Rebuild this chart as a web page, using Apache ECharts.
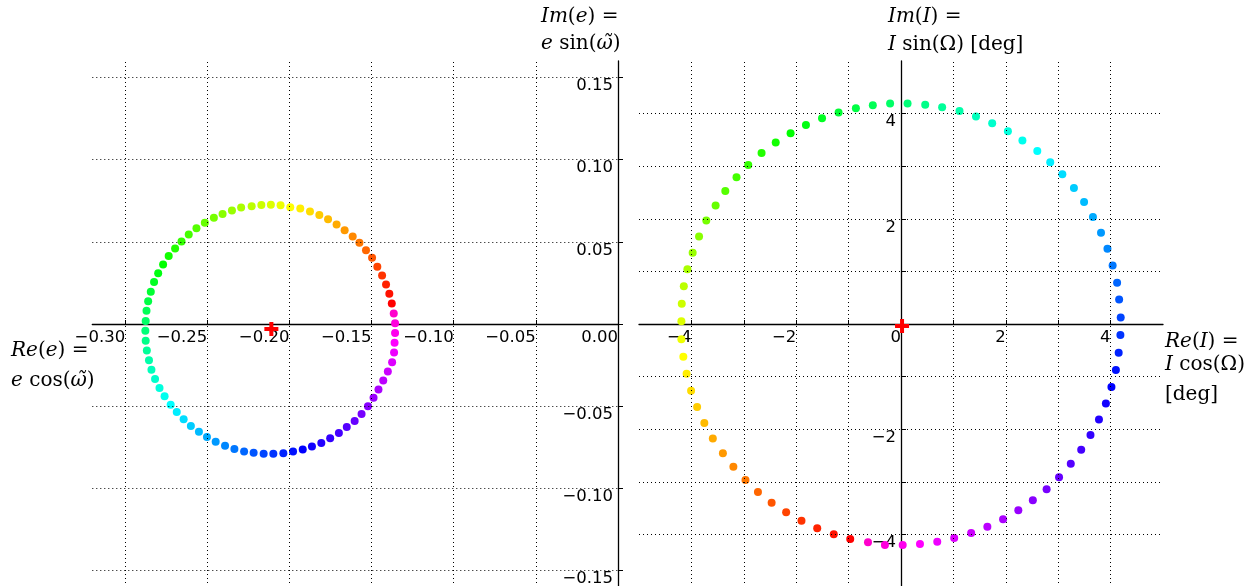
<!DOCTYPE html>
<html><head><meta charset="utf-8">
<script src="https://cdn.jsdelivr.net/npm/echarts@6/dist/echarts.min.js"></script>
<style>html,body{margin:0;padding:0;background:#fff}#c{width:1253px;height:586px}</style>
</head><body><div id="c"></div>
<script>
// ---- data ----
const leftRe = [-0.1377,-0.1392,-0.1412,-0.1436,-0.1465,-0.1497,-0.1534,-0.1574,-0.1615,-0.1664,-0.1713,-0.1765,-0.1818,-0.1875,-0.1934,-0.1995,-0.2054,-0.2113,-0.2171,-0.2230,-0.2294,-0.2350,-0.2407,-0.2460,-0.2515,-0.2566,-0.2613,-0.2657,-0.2696,-0.2735,-0.2769,-0.2799,-0.2824,-0.2844,-0.2860,-0.2870,-0.2875,-0.2877,-0.2875,-0.2868,-0.2855,-0.2840,-0.2818,-0.2791,-0.2760,-0.2723,-0.2686,-0.2644,-0.2600,-0.2551,-0.2502,-0.2449,-0.2392,-0.2335,-0.2276,-0.2218,-0.2157,-0.2098,-0.2037,-0.1978,-0.1919,-0.1863,-0.1806,-0.1752,-0.1699,-0.1651,-0.1603,-0.1561,-0.1522,-0.1488,-0.1458,-0.1429,-0.1401,-0.1375,-0.1363,-0.1360,-0.1357,-0.1357,-0.1365];
const leftIm = [0.0125,0.0184,0.0241,0.0295,0.0348,0.0403,0.0448,0.0495,0.0533,0.0571,0.0606,0.0638,0.0663,0.0685,0.0702,0.0711,0.0722,0.0726,0.0724,0.0717,0.0708,0.0691,0.0669,0.0647,0.0616,0.0582,0.0545,0.0502,0.0460,0.0413,0.0362,0.0309,0.0255,0.0196,0.0139,0.0080,0.0019,-0.0041,-0.0102,-0.0161,-0.0220,-0.0279,-0.0334,-0.0389,-0.0440,-0.0492,-0.0535,-0.0580,-0.0620,-0.0655,-0.0687,-0.0717,-0.0740,-0.0760,-0.0776,-0.0784,-0.0789,-0.0790,-0.0787,-0.0776,-0.0764,-0.0746,-0.0724,-0.0695,-0.0663,-0.0626,-0.0590,-0.0547,-0.0501,-0.0449,-0.0399,-0.0344,-0.0289,-0.0233,-0.0174,-0.0114,-0.0054,0.0005,0.0064];
const rightRe = [-0.969,-1.283,-1.599,-1.899,-2.192,-2.469,-2.730,-2.968,-3.199,-3.399,-3.591,-3.753,-3.891,-4.006,-4.092,-4.154,-4.191,-4.191,-4.184,-4.145,-4.076,-3.976,-3.854,-3.716,-3.538,-3.353,-3.139,-2.915,-2.661,-2.391,-2.107,-1.814,-1.507,-1.191,-0.861,-0.538,-0.208,0.125,0.462,0.785,1.117,1.431,1.740,2.040,2.317,2.601,2.848,3.079,3.300,3.494,3.663,3.817,3.940,4.039,4.124,4.163,4.193,4.187,4.154,4.101,4.016,3.910,3.778,3.616,3.439,3.240,3.016,2.779,2.516,2.239,1.948,1.648,1.339,1.015,0.692,0.362,0.032,-0.307,-0.630];
const rightIm = [-4.088,-3.998,-3.884,-3.739,-3.579,-3.396,-3.192,-2.964,-2.716,-2.455,-2.177,-1.884,-1.579,-1.269,-0.945,-0.621,-0.291,0.051,0.383,0.718,1.042,1.354,1.665,1.970,2.255,2.528,2.789,3.023,3.251,3.450,3.627,3.785,3.912,4.021,4.103,4.160,4.192,4.192,4.166,4.122,4.051,3.945,3.817,3.665,3.488,3.290,3.074,2.846,2.585,2.318,2.032,1.735,1.430,1.112,0.783,0.465,0.122,-0.208,-0.545,-0.874,-1.198,-1.510,-1.815,-2.112,-2.392,-2.659,-2.912,-3.141,-3.350,-3.541,-3.712,-3.853,-3.973,-4.069,-4.139,-4.183,-4.202,-4.202,-4.150];
const leftCenter = [-0.211, -0.003];
const rightCenter = [0.02, -0.04];

const leftXTicks = [-0.30,-0.25,-0.20,-0.15,-0.10,-0.05,0.00];
const leftYTicks = [-0.15,-0.10,-0.05,0.00,0.05,0.10,0.15];
const leftYLabels = [-0.15,-0.10,-0.05,0.05,0.10,0.15];
const rightXTicks = [-4,-3,-2,-1,0,1,2,3,4];
const rightXLabels = [-4,-2,0,2,4];
const rightYTicks = [-4,-3,-2,-1,0,1,2,3,4];
const rightYLabels = [-4,-2,2,4];

// ---- layout ----
const G = [
  {left:92.3, top:61, width:525.7, height:526, xMin:-0.32, xMax:0, yMin:-0.16, yMax:0.16},
  {left:639, top:61, width:524, height:526, xMin:-5, xMax:5, yMin:-5, yMax:5}
];

const chart = echarts.init(document.getElementById('c'), null, {renderer:'canvas'});
const TICK_FONT = {fontFamily:'DejaVu Sans', fontSize:16.5, color:'#000'};
function fmt(d){ return v => (v < -1e-9 ? '\u2212' : '') + Math.abs(v).toFixed(d); }
const axisLineStyle = {color:'#000', width:1.3};

function xAx(gi, ticks, labels, dec){
  const g = G[gi];
  // shift the bottom axis up to the y = 0 line (keeps labels next to the line)
  const off = -g.height * (0 - g.yMin) / (g.yMax - g.yMin);
  return {type:'value', gridIndex:gi, min:g.xMin, max:g.xMax, position:'bottom', offset:off,
    axisLine:{show:true, onZero:false, lineStyle:axisLineStyle},
    axisTick:{show:true, inside:true, length:4, customValues:ticks, lineStyle:{color:'#000', width:1}},
    axisLabel:Object.assign({show:true, customValues:labels, formatter:fmt(dec), align:'right', margin:5,
      showMinLabel:true, showMaxLabel:true, hideOverlap:false}, TICK_FONT),
    splitLine:{show:false}};
}
function yAx(gi, ticks, labels, dec){
  const g = G[gi];
  // shift the left axis right to the x = 0 line
  const off = -g.width * (0 - g.xMin) / (g.xMax - g.xMin);
  return {type:'value', gridIndex:gi, min:g.yMin, max:g.yMax, position:'left', offset:off,
    axisLine:{show:true, onZero:false, lineStyle:axisLineStyle},
    axisTick:{show:true, inside:true, length:5, customValues:ticks, lineStyle:{color:'#000', width:1}},
    axisLabel:Object.assign({show:true, customValues:labels, formatter:fmt(dec), verticalAlign:'top', margin:5,
      showMinLabel:true, showMaxLabel:true, hideOverlap:false}, TICK_FONT),
    splitLine:{show:false}};
}
function gridSeries(xi, xs, ys){
  const d = xs.filter(v=>Math.abs(v)>1e-9).map(v=>({xAxis:v}))
    .concat(ys.filter(v=>Math.abs(v)>1e-9).map(v=>({yAxis:v})));
  return {type:'scatter', xAxisIndex:xi, yAxisIndex:xi, data:[], z:1, silent:true,
    markLine:{silent:true, symbol:['none','none'], label:{show:false}, animation:false,
      lineStyle:{color:'#000', width:1, type:[1,3], opacity:1}, emphasis:{disabled:true}, data:d}};
}
function dots(xi, xs, ys){
  return {type:'scatter', xAxisIndex:xi, yAxisIndex:xi, z:3, symbolSize:8,
    data: xs.map((x,i)=>[x, ys[i], i]), itemStyle:{opacity:1}};
}
const PLUS = 'path://M0,10h10v-10h8v10h10v8h-10v10h-8v-10h-10z';
function cross(xi, c){
  return {type:'scatter', xAxisIndex:xi, yAxisIndex:xi, z:4, symbol:PLUS, symbolSize:14,
    data:[c], itemStyle:{color:'#ff0000', opacity:1}};
}

const SERIF = 'DejaVu Serif';
const rich = {i:{fontStyle:'italic', fontFamily:SERIF, fontSize:20, fill:'#000'}};
function txt(x, y, s){
  return {type:'text', x, y, silent:true, z:10,
    style:{text:s, fontFamily:SERIF, fontSize:20, fill:'#000', rich,
      align:'left', verticalAlign:'middle', textAlign:'left', textVerticalAlign:'middle'}};
}

chart.setOption({
  animation:false,
  backgroundColor:'#fff',
  grid: G.map(g=>({left:g.left, top:g.top, width:g.width, height:g.height, containLabel:false, outerBoundsMode:'none'})),
  xAxis:[ xAx(0,leftXTicks,leftXTicks,2), xAx(1,rightXTicks,rightXLabels,0) ],
  yAxis:[ yAx(0,leftYTicks,leftYLabels,2), yAx(1,rightYTicks,rightYLabels,0) ],
  visualMap:{show:false, type:'continuous', dimension:2, min:0, max:90, seriesIndex:[1,4],
    inRange:{color:['#ff0000','#ffff00','#00ff00','#00ffff','#0000ff','#ff00ff','#ff0000']}},
  series:[
    gridSeries(0, leftXTicks, leftYTicks),
    dots(0, leftRe, leftIm),
    cross(0, leftCenter),
    gridSeries(1, rightXTicks, rightYTicks),
    dots(1, rightRe, rightIm),
    cross(1, rightCenter)
  ],
  graphic:[
    txt(541, 16.7, '{i|Im}({i|e}) ='),
    txt(541, 44.2, '{i|e} sin({i|ω\u0303})'),
    txt(11, 351, '{i|Re}({i|e}) ='),
    txt(11, 381, '{i|e} cos({i|ω\u0303})'),
    txt(888, 16.5, '{i|Im}({i|I}) ='),
    txt(888, 45, '{i|I} sin(Ω) [deg]'),
    txt(1165, 341.7, '{i|Re}({i|I}) ='),
    txt(1165, 365, '{i|I} cos(Ω)'),
    txt(1165, 394.7, '[deg]')
  ]
});
</script></body></html>
